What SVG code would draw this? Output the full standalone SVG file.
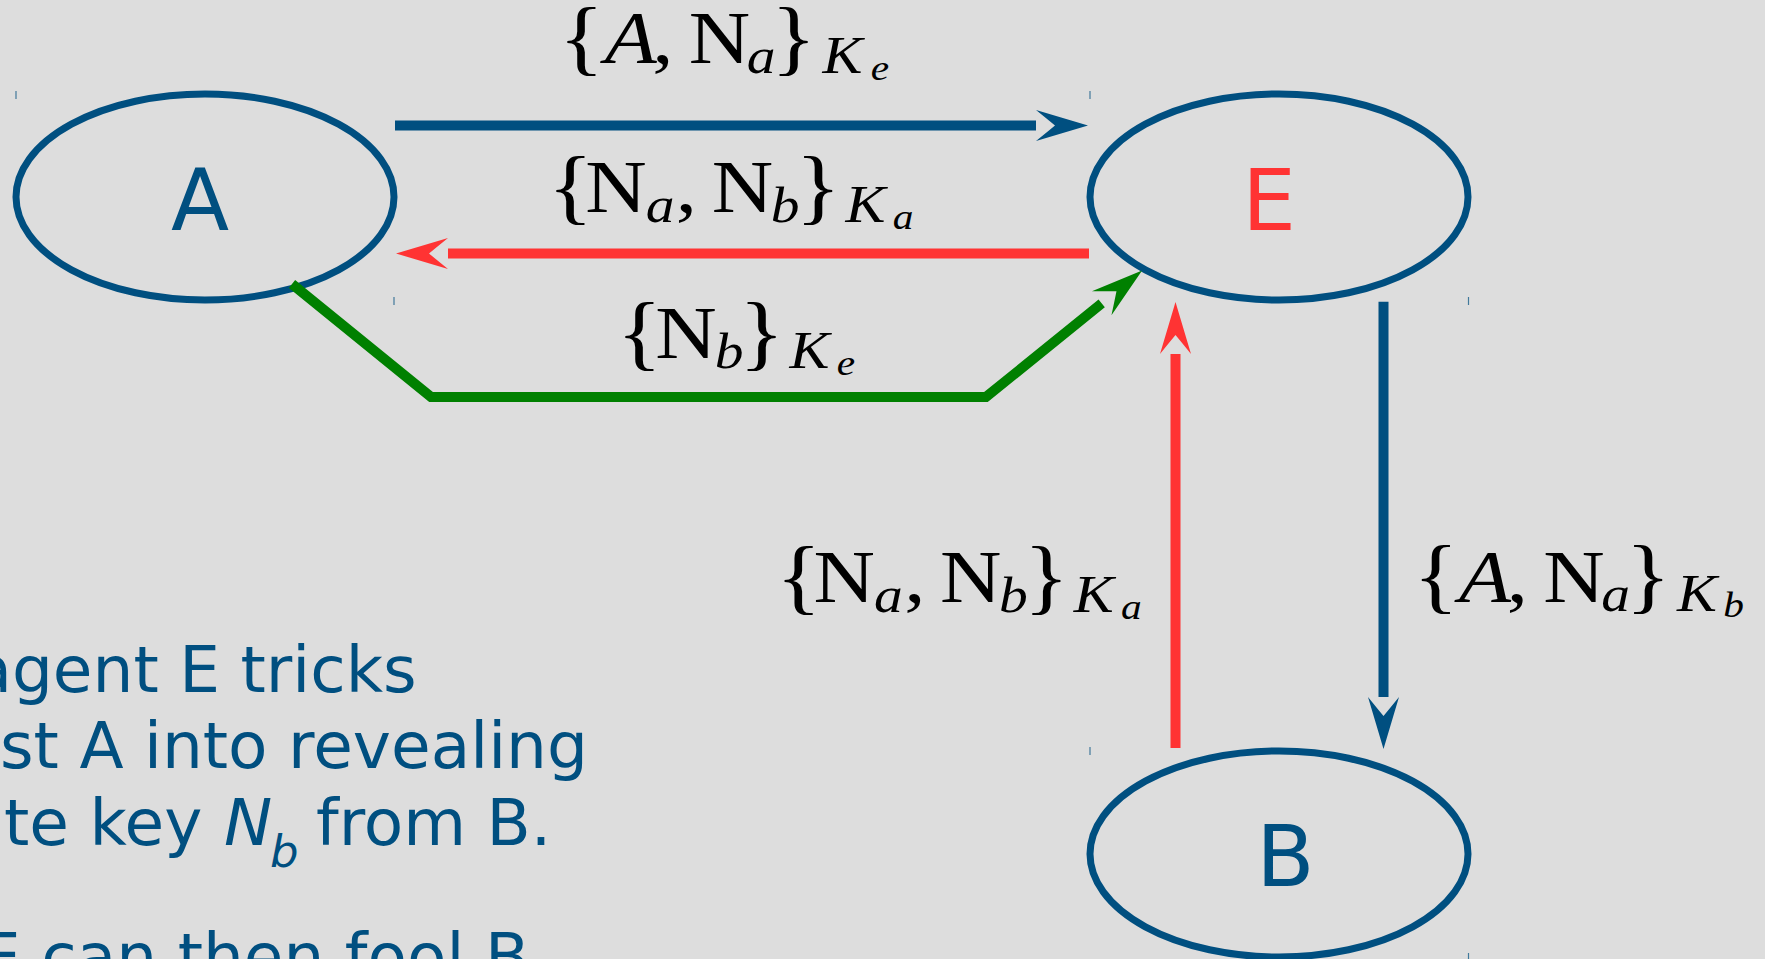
<svg xmlns="http://www.w3.org/2000/svg" width="1765" height="959" viewBox="0 0 1765 959">
<defs>
<style>
.node{fill:none;stroke:#004f80;stroke-width:7}
.nl{font-family:"DejaVu Sans",sans-serif;font-size:85px;text-anchor:middle}
.tick{stroke:#004f80;stroke-width:1.2;opacity:0.7}
.c{fill:none;stroke-width:10;stroke-linecap:butt;stroke-linejoin:miter}
.g{font-family:"Liberation Serif","Times New Roman",serif;fill:#000}
.b{font-size:82px;font-style:normal}
.n{font-size:74px;font-style:normal}
.s{font-size:50px;font-style:italic}
.k{font-size:52px;font-style:italic}
.ss{font-size:36px;font-style:italic}
.i{font-style:italic}
.cap{font-family:"DejaVu Sans",sans-serif;font-size:64.5px;fill:#004f80}
</style>
<marker id="hb" markerUnits="userSpaceOnUse" viewBox="-2 -18 56 36" refX="0" refY="0" markerWidth="56" markerHeight="36" orient="auto">
<path d="M0,-15.5 L52,0 L0,15.5 Q13,5 19,0 Q13,-5 0,-15.5 Z" fill="#004f80"/>
</marker>
<marker id="hr" markerUnits="userSpaceOnUse" viewBox="-2 -18 56 36" refX="0" refY="0" markerWidth="56" markerHeight="36" orient="auto">
<path d="M0,-15.5 L52,0 L0,15.5 Q13,5 19,0 Q13,-5 0,-15.5 Z" fill="#ff3333"/>
</marker>
<marker id="hg" markerUnits="userSpaceOnUse" viewBox="-2 -18 56 36" refX="0" refY="0" markerWidth="56" markerHeight="36" orient="auto">
<path d="M0,-15.5 L52,0 L0,15.5 Q13,5 19,0 Q13,-5 0,-15.5 Z" fill="#008000"/>
</marker>
</defs>
<rect x="0" y="0" width="1765" height="959" fill="#dddddd"/>

<g id="node-A">
<ellipse class="node" cx="205" cy="197" rx="189" ry="103"/>
<text class="nl" x="200" y="230" fill="#004f80">A</text>
<line class="tick" x1="16" y1="91" x2="16" y2="99"/>
<line class="tick" x1="394" y1="297" x2="394" y2="305"/>
</g>

<g id="node-E">
<ellipse class="node" cx="1279" cy="197" rx="189" ry="103"/>
<text class="nl" x="1269" y="230" fill="#ff3333">E</text>
<line class="tick" x1="1090" y1="91" x2="1090" y2="99"/>
<line class="tick" x1="1468.5" y1="297" x2="1468.5" y2="305"/>
</g>

<g id="node-B">
<ellipse class="node" cx="1279" cy="854" rx="189" ry="103"/>
<text class="nl" x="1285.5" y="886" fill="#004f80">B</text>
<line class="tick" x1="1090" y1="747" x2="1090" y2="755"/>
<line class="tick" x1="1468.5" y1="953" x2="1468.5" y2="961"/>
</g>

<g id="connectors">
<path class="c" d="M395,125.5 L1036,125.5" stroke="#004f80" marker-end="url(#hb)"/>
<path class="c" d="M1089,253.5 L448,253.5" stroke="#ff3333" marker-end="url(#hr)"/>
<path class="c" d="M292,284 L431,397 L986,397 L1101.7,303.3" stroke="#008000" marker-end="url(#hg)"/>
<path class="c" d="M1175.5,748 L1175.5,354" stroke="#ff3333" marker-end="url(#hr)"/>
<path class="c" d="M1383.5,301.7 L1383.5,697" stroke="#004f80" marker-end="url(#hb)"/>
</g>

<g id="label-A-E">
<text class="g" transform="scale(1.15,1)"><tspan class="b" x="485.9" y="65">{</tspan><tspan class="n i" x="525.8" y="63.3">A</tspan><tspan class="n" x="567.2" y="63.3">,</tspan><tspan class="n" x="598.9" y="63.3">N</tspan><tspan class="s" x="649.4" y="72.7">a</tspan><tspan class="b" x="670.4" y="65">}</tspan><tspan class="k" x="715.3" y="72.7">K</tspan><tspan class="ss" x="757.2" y="80">e</tspan></text>
</g>

<g id="label-E-A">
<text class="g" transform="scale(1.15,1)"><tspan class="b" x="476.3" y="214">{</tspan><tspan class="n" x="508.9" y="211.7">N</tspan><tspan class="s" x="561.6" y="221.7">a</tspan><tspan class="n" x="587.7" y="211.7">,</tspan><tspan class="n" x="618.9" y="211.7">N</tspan><tspan class="s" x="670.2" y="221.7">b</tspan><tspan class="b" x="691.7" y="214">}</tspan><tspan class="k" x="735.3" y="221.7">K</tspan><tspan class="ss" x="776.3" y="229">a</tspan></text>
</g>

<g id="label-A-E-green">
<text class="g" transform="scale(1.15,1)"><tspan class="b" x="536.3" y="360">{</tspan><tspan class="n" x="569.8" y="358.3">N</tspan><tspan class="s" x="621.5" y="368.3">b</tspan><tspan class="b" x="642.6" y="360">}</tspan><tspan class="k" x="686.6" y="368.3">K</tspan><tspan class="ss" x="727.7" y="375">e</tspan></text>
</g>

<g id="label-B-E">
<text class="g" transform="scale(1.15,1)"><tspan class="b" x="674.8" y="604">{</tspan><tspan class="n" x="707.4" y="601.7">N</tspan><tspan class="s" x="760.1" y="611.7">a</tspan><tspan class="n" x="786.2" y="601.7">,</tspan><tspan class="n" x="817.4" y="601.7">N</tspan><tspan class="s" x="868.7" y="611.7">b</tspan><tspan class="b" x="890.2" y="604">}</tspan><tspan class="k" x="933.8" y="611.7">K</tspan><tspan class="ss" x="974.8" y="619">a</tspan></text>
</g>

<g id="label-E-B">
<text class="g" transform="scale(1.15,1)"><tspan class="b" x="1228.9" y="603.4">{</tspan><tspan class="n i" x="1268.8" y="601.7">A</tspan><tspan class="n" x="1310.2" y="601.7">,</tspan><tspan class="n" x="1341.9" y="601.7">N</tspan><tspan class="s" x="1392.4" y="611.1">a</tspan><tspan class="b" x="1413.4" y="603.4">}</tspan><tspan class="k" x="1458.3" y="611.1">K</tspan><tspan class="ss" x="1498.5" y="617">b</tspan></text>
</g>

<g id="caption">
<text class="cap" x="-27.6" y="692.3">agent E tricks</text>
<text class="cap" x="0" y="768.3">st A into revealing</text>
<text class="cap"><tspan x="4" y="845">te key </tspan><tspan x="224" y="845" font-style="italic">N</tspan><tspan x="270" y="867" font-style="italic" font-size="45px">b</tspan><tspan x="316" y="845">from B.</tspan></text>
<text class="cap" x="-20" y="979">E can then fool B</text>
</g>
</svg>
